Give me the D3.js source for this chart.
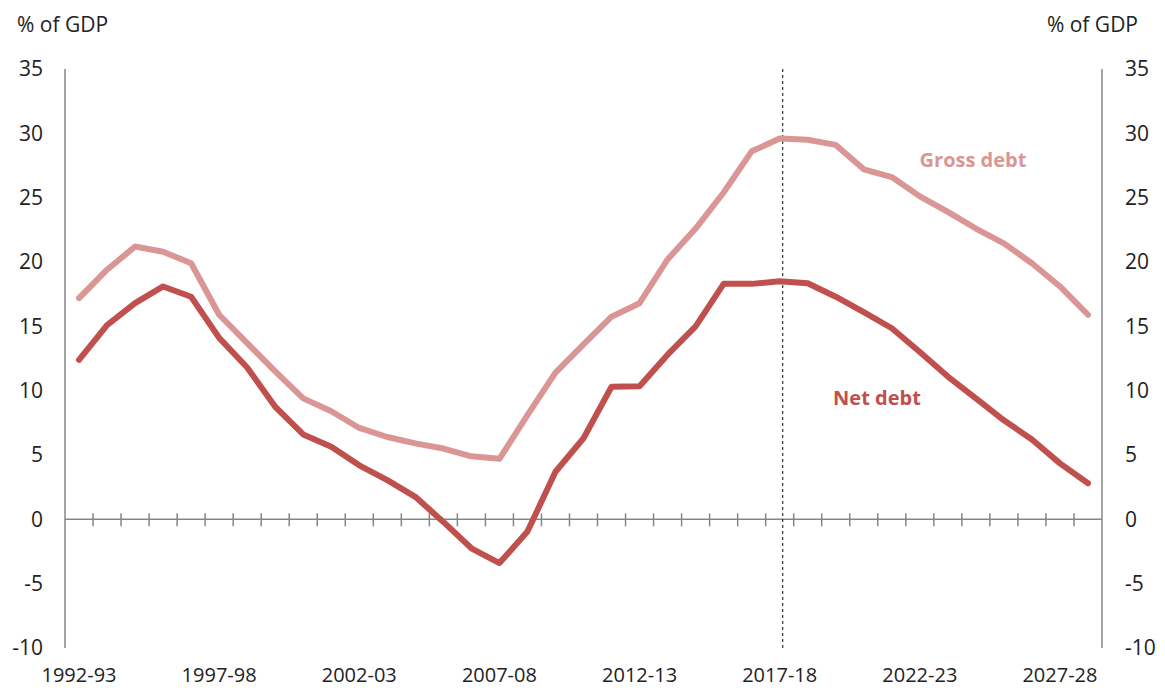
<!DOCTYPE html>
<html>
<head>
<meta charset="utf-8">
<script src="https://cdn.jsdelivr.net/npm/d3@7"></script>
<style>
  body { margin: 0; background: #fff; }
  text { font-family: "Open Sans", sans-serif; fill: #222; }
</style>
</head>
<body>
<svg id="chart"></svg>
<script>
// financial years, 1992-93 to 2028-29
const years = d3.range(1992, 2029).map(y => y + "-" + String((y + 1) % 100).padStart(2, "0"));

const grossDebt = [17.2, 19.4, 21.2, 20.8, 19.9, 15.9, 13.7, 11.5, 9.4, 8.4,
  7.1, 6.4, 5.9, 5.5, 4.9, 4.7, 8.1, 11.4, 13.6, 15.75,
  16.8, 20.2, 22.6, 25.4, 28.6, 29.6, 29.5, 29.1, 27.2, 26.6,
  25.1, 23.9, 22.6, 21.45, 19.9, 18.1, 15.9];

const netDebt = [12.4, 15.1, 16.8, 18.1, 17.3, 14.1, 11.8, 8.75, 6.6, 5.65,
  4.2, 3.05, 1.75, -0.2, -2.25, -3.4, -0.95, 3.7, 6.3, 10.3,
  10.35, 12.8, 15.0, 18.3, 18.3, 18.5, 18.35, 17.3, 16.1, 14.85,
  13.0, 11.1, 9.4, 7.7, 6.2, 4.35, 2.8];

const yTicks = [-10, -5, 0, 5, 10, 15, 20, 25, 30, 35];
const xLabelYears = ["1992-93", "1997-98", "2002-03", "2007-08", "2012-13", "2017-18", "2022-23", "2027-28"];
const forecastStart = "2017-18";

const width = 1165, height = 688;
const margin = {top: 69, right: 63, bottom: 40, left: 65};
const fontSize = "21px";

const svg = d3.select("#chart").attr("width", width).attr("height", height);

const x = d3.scaleBand()
  .domain(years)
  .range([margin.left, width - margin.right]);

const y = d3.scaleLinear()
  .domain([-10, 35])
  .range([height - margin.bottom, margin.top]);

const cx = d => x(d) + x.bandwidth() / 2;
const axisColor = "#868686";

// vertical axes
[margin.left, width - margin.right].forEach(xp => {
  svg.append("line")
    .attr("x1", xp).attr("x2", xp)
    .attr("y1", y(35)).attr("y2", y(-10))
    .attr("stroke", axisColor).attr("stroke-width", 1.5);
});

// y tick labels, both sides
svg.selectAll(".ylab-l")
  .data(yTicks)
  .enter().append("text")
  .attr("x", 43)
  .attr("y", d => y(d))
  .attr("dy", "0.35em")
  .attr("text-anchor", "end")
  .style("font-size", fontSize)
  .text(d => d);

svg.selectAll(".ylab-r")
  .data(yTicks)
  .enter().append("text")
  .attr("x", width - margin.right + 23)
  .attr("y", d => y(d))
  .attr("dy", "0.35em")
  .attr("text-anchor", "start")
  .style("font-size", fontSize)
  .text(d => d);

// unit labels
svg.append("text").attr("x", 17).attr("y", 32).style("font-size", fontSize).text("% of GDP");
svg.append("text").attr("x", 1138).attr("y", 32).attr("text-anchor", "end").style("font-size", fontSize).text("% of GDP");

// zero line with cross ticks at band edges
svg.append("line")
  .attr("x1", margin.left).attr("x2", width - margin.right)
  .attr("y1", y(0)).attr("y2", y(0))
  .attr("stroke", axisColor).attr("stroke-width", 1.5);

svg.selectAll(".xtick")
  .data(years.slice(1))
  .enter().append("line")
  .attr("x1", d => x(d)).attr("x2", d => x(d))
  .attr("y1", y(0) - 6).attr("y2", y(0) + 7)
  .attr("stroke", axisColor).attr("stroke-width", 1.5);

// x labels
svg.selectAll(".xlab")
  .data(xLabelYears)
  .enter().append("text")
  .attr("x", d => cx(d))
  .attr("y", height - 6)
  .attr("text-anchor", "middle")
  .style("font-size", "20px")
  .text(d => d);

// forecast divider
svg.append("line")
  .attr("x1", cx(forecastStart) + 3).attr("x2", cx(forecastStart) + 3)
  .attr("y1", y(35)).attr("y2", y(-10))
  .attr("stroke", "#333").attr("stroke-width", 1.2)
  .attr("stroke-dasharray", "3,3");

const line = d3.line()
  .x((d, i) => cx(years[i]))
  .y(d => y(d));

svg.append("path")
  .datum(grossDebt)
  .attr("d", line)
  .attr("fill", "none")
  .attr("stroke", "#d99694")
  .attr("stroke-width", 6)
  .attr("stroke-linejoin", "round")
  .attr("stroke-linecap", "round");

svg.append("path")
  .datum(netDebt)
  .attr("d", line)
  .attr("fill", "none")
  .attr("stroke", "#c0504d")
  .attr("stroke-width", 6)
  .attr("stroke-linejoin", "round")
  .attr("stroke-linecap", "round");

// series labels
svg.append("text")
  .attr("x", 973).attr("y", y(27.9))
  .attr("dy", "0.35em")
  .attr("text-anchor", "middle")
  .style("font-size", "20px").style("font-weight", "bold")
  .style("fill", "#d99694")
  .text("Gross debt");

svg.append("text")
  .attr("x", 877).attr("y", y(9.4))
  .attr("dy", "0.35em")
  .attr("text-anchor", "middle")
  .style("font-size", "20px").style("font-weight", "bold")
  .style("fill", "#c0504d")
  .text("Net debt");
</script>
</body>
</html>
